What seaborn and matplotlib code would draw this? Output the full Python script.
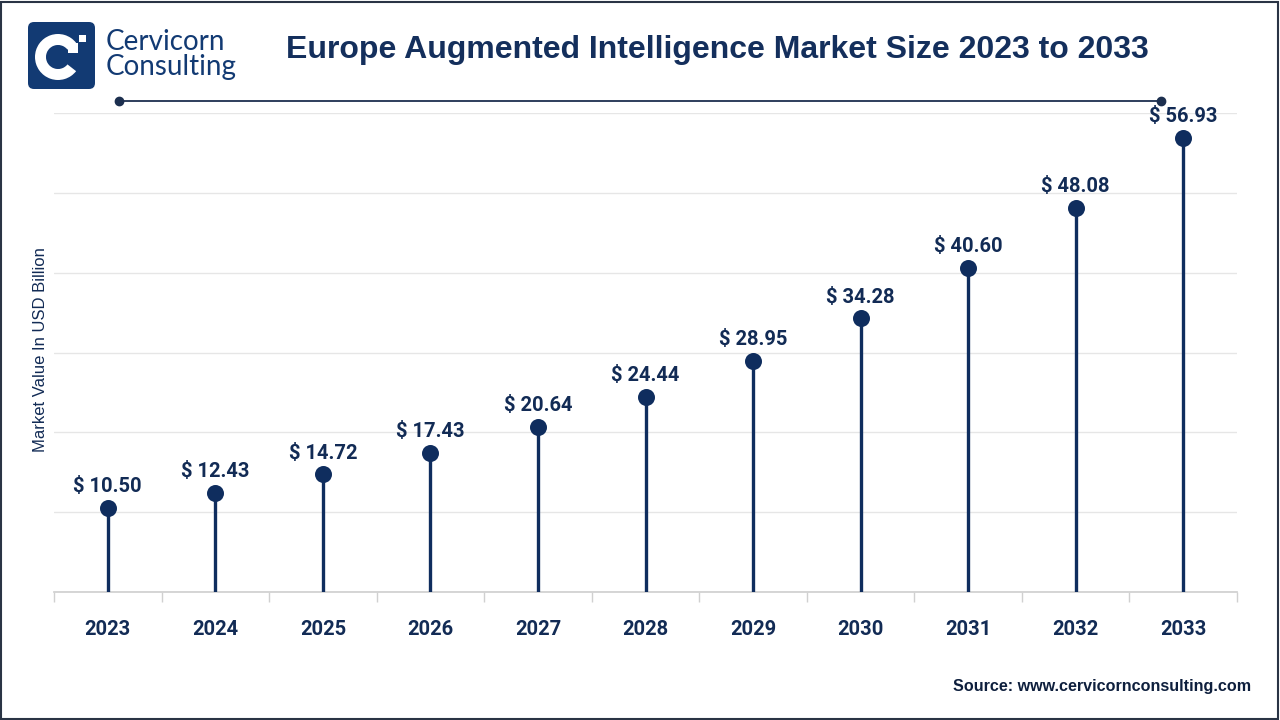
import numpy as np
import pandas as pd
import matplotlib
matplotlib.use("Agg")
import matplotlib.pyplot as plt
from matplotlib.patches import FancyBboxPatch, Wedge, Rectangle
from matplotlib.lines import Line2D
import seaborn as sns

# data
years = ["2023", "2024", "2025", "2026", "2027", "2028", "2029", "2030", "2031", "2032", "2033"]
values = [10.50, 12.43, 14.72, 17.43, 20.64, 24.44, 28.95, 34.28, 40.60, 48.08, 56.93]

title = "Europe Augmented Intelligence Market Size 2023 to 2033"
ylabel = "Market Value In USD Billion"
source = "Source: www.cervicornconsulting.com"

navy = "#0f2d5e"
text_navy = "#122b55"
grid_col = "#e6e6e6"
lab_font = ["Roboto", "DejaVu Sans"]

sns.set_theme(style="white")
plt.rcParams["font.family"] = ["Liberation Sans", "DejaVu Sans"]

df = pd.DataFrame({"year": years, "value": values})

fig = plt.figure(figsize=(12.8, 7.2), dpi=100)
W, H = 1280, 720

def px(x, y):
    return x / W, 1 - y / H

ax = fig.add_axes([54 / W, 128 / H, (1237 - 54) / W, (607 - 128) / H])

pos = np.arange(len(years))
ax.vlines(pos, 0, df["value"], color=navy, lw=2.4, zorder=3)
sns.scatterplot(data=df, x="year", y="value", color=navy, s=150, edgecolor=navy,
                linewidth=0, zorder=4, ax=ax, legend=False)

for i, v in enumerate(values):
    ax.annotate(f"$ {v:.2f}", (i, v), xytext=(0, 8.5), textcoords="offset points",
                ha="center", va="bottom", fontsize=14.5, fontweight="bold",
                color=text_navy, family=lab_font)

ax.set_xlim(-0.5, len(years) - 0.5)
ax.set_ylim(0, 60)
ax.set_yticks(np.arange(0, 61, 10))
ax.yaxis.grid(True, color=grid_col, lw=1)
ax.set_yticklabels([])
ax.tick_params(axis="y", length=0)
ax.set_xticks(pos)
ax.set_xticklabels(years, fontsize=14.5, fontweight="bold", color=text_navy,
                   family=lab_font)
ax.set_xticks(np.arange(-0.5, len(years), 1), minor=True)
ax.tick_params(axis="x", which="major", length=0, pad=20)
ax.tick_params(axis="x", which="minor", length=7, color="#d0d0d0", width=1,
               direction="out", bottom=True)
for s in ["top", "right", "left"]:
    ax.spines[s].set_visible(False)
ax.spines["bottom"].set_color("#d0d0d0")
ax.set_xlabel("")
ax.set_ylabel("")
ax.set_axisbelow(True)

# y label
fig.text(*px(41, 350), ylabel, rotation=90, ha="center", va="center",
         fontsize=12, color=text_navy)

# title and rule
fig.text(*px(717, 50), title, ha="center", va="center", fontsize=23,
         fontweight="bold", color="#142f5c")
fig.add_artist(Line2D([119 / W, 1161 / W], [1 - 101 / H, 1 - 101 / H],
                      color="#1c2f4f", lw=1.3, marker="o", markersize=6,
                      markevery=[0, 1], transform=fig.transFigure))

# logo
lax = fig.add_axes([28 / W, 1 - 89 / H, 67 / W, 67 / H])
lax.set_xlim(0, 67)
lax.set_ylim(0, 67)
lax.axis("off")
lax.add_patch(FancyBboxPatch((0, 0), 67, 67, boxstyle="round,pad=0,rounding_size=6",
                             fc="#123a73", ec="none"))
lax.add_patch(Wedge((30, 32), 23, 38, 322, width=11, fc="white", ec="none"))
lax.add_patch(Rectangle((40, 36), 10, 10, fc="white", ec="none"))
lax.add_patch(Rectangle((51, 47), 7, 7, fc="white", ec="none"))
fig.text(*px(106, 42), "Cervicorn", ha="left", va="center", fontsize=20,
         color="#123a73", family=["Lato", "DejaVu Sans"])
fig.text(*px(106, 67), "Consulting", ha="left", va="center", fontsize=20,
         color="#123a73", family=["Lato", "DejaVu Sans"])

# source
fig.text(*px(1251, 686), source, ha="right", va="center", fontsize=11.6,
         fontweight="bold", color="#0e1f3d")

# border
fig.add_artist(Rectangle((1 / W, 1 / H), 1277 / W, 717 / H, fill=False,
                         ec="#2a3445", lw=1.5, transform=fig.transFigure))

fig.savefig("out.png", dpi=100)
